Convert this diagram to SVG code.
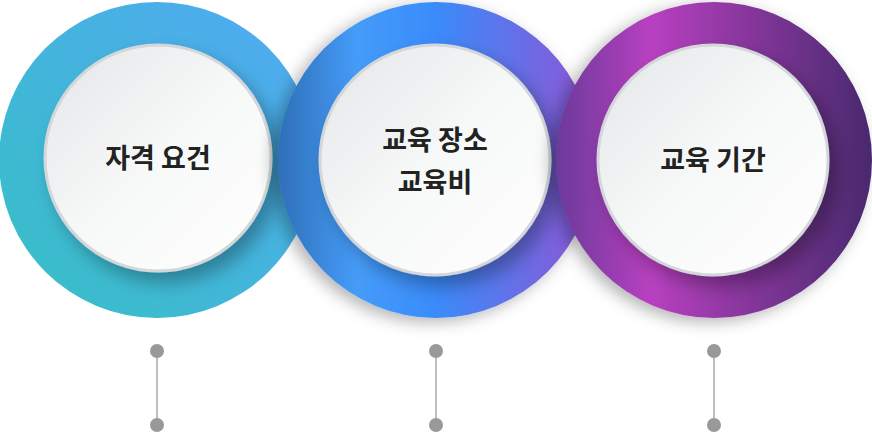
<svg xmlns="http://www.w3.org/2000/svg" width="872" height="434" viewBox="0 0 872 434">
<defs>
<linearGradient id="g1" x1="0" y1="1" x2="1" y2="0"><stop offset="0" stop-color="#36c0c4"/><stop offset="1" stop-color="#52a9f5"/></linearGradient>
<linearGradient id="g2" x1="0" y1="0" x2="1" y2="0"><stop offset="0" stop-color="#2f6fb8"/><stop offset="0.25" stop-color="#459cf8"/><stop offset="0.5" stop-color="#3a8bfb"/><stop offset="1" stop-color="#8f55d4"/></linearGradient>
<linearGradient id="g3" x1="0" y1="0" x2="1" y2="0"><stop offset="0" stop-color="#6a3a9a"/><stop offset="0.3" stop-color="#b840c0"/><stop offset="1" stop-color="#482a6e"/></linearGradient>
<linearGradient id="w" x1="0" y1="0" x2="1" y2="1"><stop offset="0" stop-color="#e3e6e8"/><stop offset="0.5" stop-color="#f7f8f8"/><stop offset="1" stop-color="#ffffff"/></linearGradient>
<filter id="sh" x="-20%" y="-20%" width="140%" height="140%"><feDropShadow dx="-6" dy="4" stdDeviation="8" flood-color="#000" flood-opacity="0.3"/></filter>
<filter id="sh2" x="-20%" y="-20%" width="140%" height="140%"><feDropShadow dx="8" dy="10" stdDeviation="9" flood-color="#000" flood-opacity="0.3"/></filter>
<style>.in{fill:url(#w);stroke:#d4d7d9;stroke-width:3}.t{font-family:"Noto Sans CJK KR","Noto Sans",sans-serif;font-weight:bold;font-size:27px;fill:#222;text-anchor:middle}.d{fill:#999}</style>
</defs>
<g id="node1"><circle cx="157" cy="160" r="158" fill="url(#g1)"/><circle class="in" cx="158" cy="158" r="113" filter="url(#sh2)"/><text class="t" x="158" y="168">자격 요건</text></g>
<g id="node2"><circle cx="436" cy="160" r="158" fill="url(#g2)" filter="url(#sh)"/><circle class="in" cx="435" cy="160" r="115" filter="url(#sh2)"/><text class="t" x="435" y="150">교육 장소</text><text class="t" x="435" y="192">교육비</text></g>
<g id="node3"><circle cx="714" cy="160" r="158" fill="url(#g3)" filter="url(#sh)"/><circle class="in" cx="713" cy="160" r="115" filter="url(#sh2)"/><text class="t" x="713" y="170">교육 기간</text></g>
<g id="connectors" stroke="#aaa" stroke-width="1.5"><line x1="157" y1="351" x2="157" y2="425"/><line x1="436" y1="351" x2="436" y2="425"/><line x1="714" y1="351" x2="714" y2="425"/></g>
<g id="dots"><circle class="d" cx="157" cy="351" r="7"/><circle class="d" cx="157" cy="425" r="7"/><circle class="d" cx="436" cy="351" r="7"/><circle class="d" cx="436" cy="425" r="7"/><circle class="d" cx="714" cy="351" r="7"/><circle class="d" cx="714" cy="425" r="7"/></g>
</svg>
